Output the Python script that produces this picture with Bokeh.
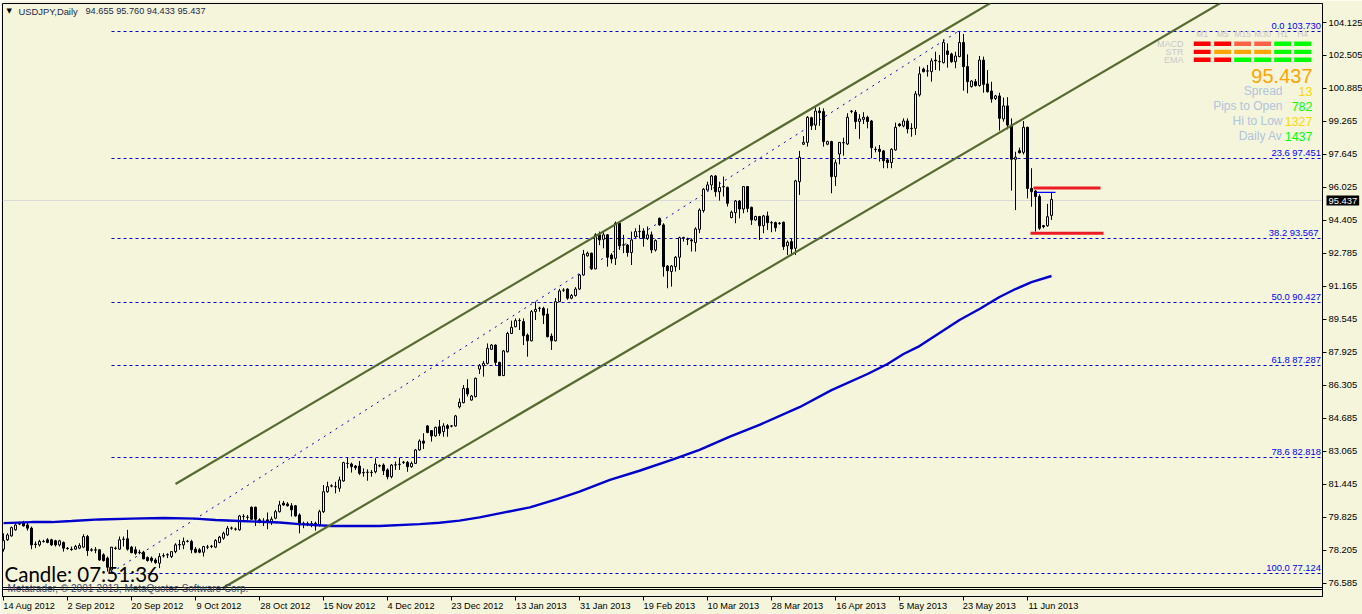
import math
from bokeh.embed import file_html
from bokeh.resources import INLINE
from bokeh.plotting import figure
from bokeh.models import FixedTicker, Label, Span, ColumnDataSource, Range1d
from bokeh.core.properties import value

opens = [78.27,78.73,78.92,79.22,79.50,79.58,79.46,79.30,78.52,78.48,
78.64,78.73,78.73,78.68,78.48,78.60,78.32,78.27,78.27,78.32,
78.37,78.89,78.24,78.22,78.24,77.99,77.83,77.25,78.30,78.27,
78.75,78.78,78.37,78.24,78.12,78.12,77.86,77.83,77.74,77.58,
77.95,77.99,77.91,78.15,78.48,78.48,78.65,78.65,78.27,78.24,
78.12,78.37,78.40,78.37,78.60,78.81,78.97,79.30,79.25,79.22,
79.87,79.84,80.33,80.33,79.71,79.62,79.71,79.58,79.79,80.11,
80.53,80.49,80.40,80.40,79.95,79.54,79.53,79.52,79.54,79.46,
80.11,81.09,81.37,81.34,81.26,81.62,82.48,82.45,82.35,82.35,
82.03,82.04,82.04,82.07,82.37,82.40,82.16,81.83,82.40,82.43,
82.53,82.53,82.32,82.48,83.14,83.58,84.32,84.09,83.83,84.28,
84.04,84.33,84.32,84.32,85.26,85.46,86.16,85.59,85.76,87.11,
87.28,87.39,88.08,88.29,87.44,86.79,87.96,88.86,89.19,89.49,
89.44,88.78,88.50,89.93,90.09,90.09,89.81,88.73,88.50,90.42,
90.98,91.04,90.59,90.72,91.04,91.73,92.67,92.80,92.03,93.70,
93.48,93.70,92.71,92.55,94.27,93.20,93.20,92.83,93.61,93.86,
93.89,93.53,93.70,92.96,94.51,94.19,92.17,91.90,92.14,92.60,
93.56,93.50,93.45,93.32,93.97,94.89,95.90,96.15,96.59,95.82,
96.07,96.03,94.55,94.79,95.36,94.97,96.07,95.05,94.43,94.60,
94.15,94.63,94.30,94.30,94.27,94.32,93.16,93.37,93.04,96.31,
98.15,98.24,99.45,99.09,99.78,99.75,98.15,98.28,96.56,97.67,
98.23,98.16,99.77,99.72,99.27,99.37,99.47,99.29,97.90,97.90,
97.82,97.38,97.25,97.87,99.14,99.05,99.29,98.93,98.93,100.57,
101.84,101.74,101.71,102.28,102.20,102.15,102.73,102.58,102.20,102.45,
103.14,101.96,100.98,101.22,101.03,102.28,101.11,100.76,100.39,100.52,
99.39,100.03,99.09,97.41,97.83,97.75,98.98,95.98,95.85,95.58,
94.15,94.15,94.655]

highs = [79.05,79.05,79.38,79.59,79.62,79.66,79.58,79.38,78.65,78.73,
78.73,78.81,78.78,78.73,78.73,78.65,78.37,78.40,78.48,78.56,
79.00,78.97,78.32,78.37,78.27,78.07,77.91,78.37,78.40,78.89,
78.89,79.22,78.43,78.40,78.24,78.19,77.91,77.91,77.83,78.07,
78.07,78.07,78.15,78.56,78.73,78.84,78.73,78.73,78.37,78.32,
78.43,78.48,78.48,78.76,78.92,79.13,79.41,79.38,79.33,79.95,
79.99,79.95,80.36,80.36,79.79,79.79,80.07,79.87,80.20,80.64,
80.64,80.58,80.53,80.44,80.03,79.62,79.62,79.65,79.62,80.20,
81.42,81.58,81.45,81.58,81.83,82.56,82.78,82.52,82.40,82.60,
82.24,82.19,82.16,82.73,82.43,82.48,82.24,82.45,82.57,82.76,
82.60,82.60,82.57,83.19,83.66,83.96,84.36,84.12,84.28,84.61,
84.45,84.41,84.36,84.86,85.67,86.33,86.61,85.84,86.69,87.36,
87.51,88.37,88.34,88.32,87.47,88.05,88.94,89.49,89.60,89.60,
89.60,88.86,90.01,90.42,90.17,90.17,90.09,88.86,90.60,91.05,
91.08,91.08,90.80,91.13,91.78,92.96,92.88,92.83,93.78,93.86,
93.86,93.74,92.80,94.35,94.35,93.70,93.25,93.86,94.02,94.19,
94.02,94.11,93.86,93.48,94.55,94.27,92.22,92.22,92.66,93.61,
93.61,93.56,93.53,94.07,95.00,95.99,96.31,96.64,96.64,96.31,
96.56,96.07,94.89,95.41,95.41,96.10,96.10,95.09,94.64,94.63,
94.68,94.84,94.38,94.35,94.33,94.35,93.42,93.53,96.40,97.82,
98.55,99.53,99.50,99.96,99.96,99.91,98.32,98.32,97.40,98.24,
98.47,99.67,99.83,99.83,99.62,99.72,99.55,99.34,98.03,98.11,
97.87,97.46,97.95,99.21,99.18,99.42,99.42,99.18,100.76,101.96,
101.91,102.04,102.37,102.69,102.53,103.30,103.10,102.64,102.69,103.71,
103.56,102.56,101.29,101.35,102.48,102.45,101.79,101.22,100.57,100.68,
100.44,100.46,99.42,97.78,97.98,99.29,99.01,96.97,95.90,95.69,
94.19,95.22,95.760]

lows = [78.15,78.68,78.89,79.18,79.45,79.38,79.18,78.27,78.32,78.40,
78.60,78.56,78.43,78.40,78.40,78.15,78.24,78.19,78.24,78.27,
78.32,77.94,78.15,78.07,77.70,77.66,77.17,77.09,78.24,78.24,
78.40,78.20,78.07,77.99,78.02,77.79,77.66,77.61,77.55,77.34,
77.86,77.83,77.83,78.07,78.24,78.27,78.60,78.07,78.07,78.07,
77.91,78.27,78.32,78.32,78.56,78.73,78.92,79.22,79.18,79.18,
79.71,79.71,79.71,79.41,79.54,79.41,79.25,79.46,79.74,80.07,
80.40,80.36,79.87,79.87,79.05,79.30,79.40,79.35,79.18,79.38,
80.05,81.04,81.31,81.01,81.09,81.58,82.24,82.03,82.16,81.91,
81.83,81.63,81.83,81.99,82.29,81.91,81.70,81.75,82.16,82.16,
82.45,82.07,82.27,82.45,83.11,83.19,83.96,83.55,83.79,83.83,
83.79,83.79,84.25,84.28,85.18,85.43,85.76,85.56,85.72,86.87,
86.74,87.34,88.05,87.28,86.77,86.77,87.93,88.83,89.16,89.03,
88.29,87.72,88.47,89.52,89.93,89.32,88.67,88.05,88.47,90.40,
90.90,90.51,90.54,90.67,90.99,91.70,92.63,91.98,92.01,93.20,
93.04,92.14,92.30,92.22,92.96,92.80,92.63,92.22,93.53,93.53,
93.12,93.45,92.80,92.88,94.15,91.65,91.08,91.16,91.90,91.98,
93.37,93.20,92.88,92.88,93.78,94.79,95.87,95.90,95.58,95.38,
95.58,95.09,94.51,94.27,94.51,94.76,94.81,94.19,94.40,93.45,
93.78,93.94,93.83,93.86,94.20,92.96,92.71,92.66,92.71,95.66,
98.11,98.03,98.85,98.85,99.05,98.03,98.10,95.74,96.10,97.16,
97.59,98.11,99.67,98.90,98.41,99.14,98.93,97.46,97.75,97.30,
96.97,96.97,96.97,97.83,99.01,98.98,98.68,98.52,98.60,100.49,
101.68,101.47,101.22,101.79,101.76,102.12,101.91,102.15,101.88,102.42,
100.78,100.65,100.93,100.98,100.98,100.68,100.68,100.19,100.32,98.82,
99.26,98.88,95.87,94.92,97.70,97.65,95.49,95.08,93.86,93.94,
94.02,94.10,94.433]

closes = [78.69,78.97,79.33,79.46,79.54,79.41,79.30,78.48,78.50,78.65,
78.65,78.60,78.48,78.48,78.68,78.32,78.30,78.25,78.40,78.45,
78.89,78.20,78.22,78.24,77.74,77.71,77.38,78.37,78.32,78.73,
78.76,78.27,78.10,78.07,78.10,77.79,77.71,77.71,77.61,77.91,
77.94,78.00,78.15,78.48,78.50,78.65,78.66,78.24,78.12,78.12,
78.40,78.38,78.41,78.70,78.86,79.05,79.30,79.31,79.26,79.90,
79.88,79.83,79.74,79.74,79.62,79.63,79.59,79.74,80.11,80.44,
80.44,80.40,80.20,79.90,79.46,79.53,79.52,79.53,79.41,80.11,
81.09,81.34,81.38,81.33,81.67,82.52,82.48,82.32,82.27,81.99,
82.02,82.05,82.03,82.45,82.36,82.12,81.83,82.40,82.41,82.44,
82.54,82.32,82.48,83.14,83.58,83.47,84.00,83.83,84.25,83.96,
84.32,84.20,84.31,84.81,85.48,86.16,85.89,85.79,86.66,87.28,
87.39,88.13,88.29,87.44,86.79,88.00,88.86,89.16,89.49,89.50,
88.75,88.50,89.93,90.04,90.10,89.76,88.70,88.50,90.42,90.95,
90.99,90.59,90.72,91.04,91.73,92.75,92.80,92.03,93.70,93.45,
93.70,92.60,92.52,94.27,93.16,93.21,92.83,93.45,93.86,93.87,
93.53,93.70,92.96,93.42,94.19,92.14,91.94,92.17,92.60,93.56,
93.55,93.48,93.40,93.99,94.92,95.94,96.15,96.59,95.82,96.03,
96.06,95.25,94.81,95.36,94.97,96.07,95.00,94.43,94.60,94.15,
94.63,94.30,94.29,94.05,94.26,93.12,93.34,93.01,96.35,97.51,
98.24,99.47,99.06,99.78,99.70,98.28,98.28,96.56,97.24,98.24,
98.22,99.47,99.76,99.26,99.39,99.47,99.26,97.98,97.89,97.79,
97.34,97.25,97.90,98.98,99.06,99.29,98.90,98.92,100.62,101.60,
101.71,101.75,102.24,102.24,102.21,103.15,102.56,102.20,102.48,103.14,
101.96,101.22,101.25,101.03,102.28,101.09,100.73,100.37,100.52,99.42,
100.03,99.09,97.41,97.51,97.73,98.98,95.98,95.82,95.58,94.02,
94.10,94.59,95.437]

ma_bars = [0,7,12,17,24,32,40,48,53,59,69,74,82,94,104,109,114,119,124,131.6,138.4,144,151.6,159,167.4,174,181.6,189,199,207,216,221,225,229,234,239,244,249,253,257,262]
ma_vals = [79.55,79.60,79.60,79.65,79.73,79.77,79.80,79.77,79.70,79.65,79.58,79.50,79.41,79.41,79.50,79.57,79.67,79.83,80.03,80.32,80.73,81.09,81.67,82.12,82.68,83.14,83.79,84.37,85.24,86.08,86.87,87.36,87.85,88.24,88.88,89.52,90.06,90.65,91.04,91.38,91.68]

y_ticks = [104.125,102.505,100.885,99.265,97.645,96.025,94.405,92.785,91.165,89.545,87.925,86.305,84.685,83.065,81.445,79.825,78.205,76.585]
date_labels = ["14 Aug 2012","2 Sep 2012","20 Sep 2012","9 Oct 2012","28 Oct 2012","15 Nov 2012","4 Dec 2012","23 Dec 2012","13 Jan 2013","31 Jan 2013","19 Feb 2013","10 Mar 2013","28 Mar 2013","16 Apr 2013","5 May 2013","23 May 2013","11 Jun 2013"]
date_bars = [0,16,32,48,64,80,96,112,128,144,160,176,192,208,224,240,256]

fib_levels = [103.730,97.451,93.567,90.427,87.287,82.818,77.124]
fib_names = ["0.0 103.730","23.6 97.451","38.2  93.567","50.0 90.427","61.8 87.287","78.6 82.818","100.0 77.124"]

channel_up_bars = [43.0,246.75]
channel_up_vals = [81.47,105.08]
channel_lo_bars = [54.75,304.25]
channel_lo_vals = [76.35,105.08]
fib_trend_bars = [27,239]
fib_trend_vals = [77.124,103.730]
high_level = 95.79
red_top = 96.0
red_bot = 93.78
bid = 95.437

sig_names = ["MACD","STR","EMA"]
tf_names = ["M1","M5","M15","M30","H1","H4"]
sig_colors = [["#FF0000","#FF0000","#FF6347","#FF6347","#00FF00","#00FF00"],
              ["#FF0000","#FFA500","#FFA500","#FFA500","#00FF00","#00FF00"],
              ["#FF0000","#FF0000","#00FF00","#00FF00","#00FF00","#00FF00"]]
stat_names = ["Spread","Pips to Open","Hi to Low","Daily Av"]
stat_vals = ["13","782","1327","1437"]
stat_cols = ["#FFD700","#00FF00","#FFD700","#00FF00"]

BG = "#F5F5DC"
FONT = "Liberation Sans"
W, H = 1362, 614

def bx(px):
    return (px - 3) / 4.0

def py(y):
    return 104.125 - (y - 22) / 20.37

def snap(v):
    # price on a whole row of screen pixels, keeps the dashes crisp
    return py(math.ceil(22 + (104.125 - v) * 20.37))

FRAME_L, FRAME_R, FRAME_T, FRAME_B = 2, 1322, 3, 596

p = figure(frame_width=FRAME_R - FRAME_L, frame_height=FRAME_B - FRAME_T, output_backend="svg", toolbar_location=None,
           x_range=Range1d(bx(FRAME_L), bx(FRAME_R)), y_range=Range1d(py(FRAME_B), py(FRAME_T)),
           y_axis_location="right", min_border_left=FRAME_L, min_border_right=W - FRAME_R,
           min_border_top=FRAME_T, min_border_bottom=H - FRAME_B,
           background_fill_color=BG, border_fill_color=BG,
           outline_line_color="black", outline_line_width=1)
p.grid.visible = False

ya = p.yaxis[0]
ya.ticker = FixedTicker(ticks=y_ticks)
ya.major_label_overrides = {t: f"{t:.3f}" for t in y_ticks}
ya.major_tick_in = 0
ya.major_tick_out = 4
ya.minor_tick_line_color = None
ya.major_label_standoff = 2
ya.major_label_text_font = FONT
ya.major_label_text_font_size = "9.4px"
ya.major_label_text_color = "black"
ya.axis_line_color = "black"

# date labels start at their tick, so the centred axis labels sit half a label to its right
date_centres = [b + 0.5 * len(t) * 4.7 / 4 for b, t in zip(date_bars, date_labels)]
xa = p.xaxis[0]
xa.ticker = FixedTicker(ticks=date_centres, minor_ticks=date_bars)
xa.major_label_overrides = {c: t for c, t in zip(date_centres, date_labels)}
xa.major_tick_in = 0
xa.major_tick_out = 3
xa.major_tick_line_color = None
xa.minor_tick_in = 0
xa.minor_tick_out = 4
xa.minor_tick_line_color = "black"
xa.major_label_standoff = 0
xa.major_label_text_font = FONT
xa.major_label_text_font_size = "9.2px"
xa.major_label_text_color = "black"
xa.axis_line_color = "black"

# bid line
p.add_layout(Span(location=py(200), dimension="width", line_color="#D9D9D9", line_width=1, level="underlay"))

# fibonacci
for lv, nm in zip(fib_levels, fib_names):
    slv = snap(lv)
    p.line([fib_trend_bars[0], bx(FRAME_R)], [slv, slv], line_color="#0000E0", line_width=1, line_dash="3 3")
    p.add_layout(Label(x=bx(1320.5), y=slv, y_offset=6, text=nm, text_font=FONT, text_font_size="9.4px",
                       text_color="#0000FF", text_align="right", text_baseline="middle"))
p.line(fib_trend_bars, fib_trend_vals, line_color="#0000E0", line_width=1, line_dash="2 5")

# candles
bars = list(range(len(opens)))
top = [max(o, c) for o, c in zip(opens, closes)]
bot = [min(o, c) for o, c in zip(opens, closes)]
src = ColumnDataSource(dict(x=bars, h=highs, l=lows, top=top, bot=bot,
                            fill=["black" if c < o else BG for o, c in zip(opens, closes)]))
p.segment("x", "h", "x", "l", source=src, line_color="black", line_width=1)
p.vbar("x", 0.5, "bot", "top", source=src, fill_color="fill", line_color="black", line_width=1)

# moving average
p.line(ma_bars, ma_vals, line_color="#0000CD", line_width=2.4)

# channel
p.line(channel_up_bars, channel_up_vals, line_color="#556B2F", line_width=2.2)
p.line(channel_lo_bars, channel_lo_vals, line_color="#556B2F", line_width=2.2)

# today's levels
p.line([bx(1035), bx(1055)], [high_level, high_level], line_color="#0000FF", line_width=1.2)
p.line([bx(1033), bx(1100)], [red_top, red_top], line_color="#ED1C24", line_width=3)
p.line([bx(1030), bx(1103)], [red_bot, red_bot], line_color="#ED1C24", line_width=3)

# sub-window rule lines
for yy in (587, 589):
    p.line([bx(FRAME_L), bx(FRAME_R)], [py(yy), py(yy)], line_color="black", line_width=1)

# signal panel
cols = [1193.3, 1213.7, 1233.7, 1253.7, 1273.7, 1293.7]
col_w = 16.8
rows = [43.3, 51.4, 59.3]
for r, (nm, rc) in enumerate(zip(sig_names, sig_colors)):
    p.add_layout(Label(x=bx(1183), y=py(rows[r]), text=nm, text_font=FONT, text_font_size="9px",
                       text_color="#C8C8C8", text_align="right", text_baseline="middle"))
    for c, col in enumerate(rc):
        p.quad(left=[bx(cols[c])], right=[bx(cols[c] + col_w)], top=[py(rows[r] - 2.2)], bottom=[py(rows[r] + 2.2)],
               fill_color=col, line_color=None)
for x0, nm in zip(cols, tf_names):
    p.add_layout(Label(x=bx(x0 + col_w / 2), y=py(33.5), text=nm, text_font=FONT, text_font_size="8.5px",
                       text_color="#C8C8C8", text_align="center", text_baseline="middle"))

p.add_layout(Label(x=bx(1312), y=py(75), text=f"{bid:.3f}", text_font=FONT, text_font_size="20px",
                   text_color="#FFA500", text_align="right", text_baseline="middle"))
for k, (nm, v, col) in enumerate(zip(stat_names, stat_vals, stat_cols)):
    yy = py(90.7 + 15 * k)
    p.add_layout(Label(x=bx(1282), y=yy, text=nm, text_font=FONT, text_font_size="12px",
                       text_color="#B0C4DE", text_align="right", text_baseline="middle"))
    p.add_layout(Label(x=bx(1312), y=yy, text=v, text_font=FONT, text_font_size="12.5px",
                       text_color=col, text_align="right", text_baseline="middle"))

# header
p.add_layout(Label(x=bx(6), y=py(10), text="\u25BC", text_font="DejaVu Sans", text_font_size="7px",
                   text_color="black", text_align="left", text_baseline="middle"))
p.add_layout(Label(x=bx(18), y=py(10.5), text="USDJPY,Daily", text_font=FONT, text_font_size="9.4px",
                   text_color="#1A2A4A", text_align="left", text_baseline="middle"))
p.add_layout(Label(x=bx(85), y=py(10.5), text="94.655 95.760 94.433 95.437", text_font=FONT, text_font_size="9.2px",
                   text_color="#1A2A4A", text_align="left", text_baseline="middle"))
# countdown
p.add_layout(Label(x=bx(4), y=py(573.5), text="Candle:  07:51:36", text_font="Lato", text_font_size="20.5px",
                   text_color="black", text_align="left", text_baseline="middle"))
p.add_layout(Label(x=bx(7), y=py(588), text="Metatrader, \u00A9 2001-2013, MetaQuotes Software Corp.", text_font=FONT,
                   text_font_size="10px", text_color="#3A4A6A", text_align="left", text_baseline="middle"))
# bid tag: a label in a side panel is not clipped to the frame
p.add_layout(Label(x=bx(1326), y=py(200), text=f"{bid:.3f}", text_font=FONT, text_font_size="9.4px",
                   text_color="white", text_align="left", text_baseline="middle",
                   background_fill_color="black", padding=2), "below")

open("out.html", "w").write(file_html(p, INLINE))
